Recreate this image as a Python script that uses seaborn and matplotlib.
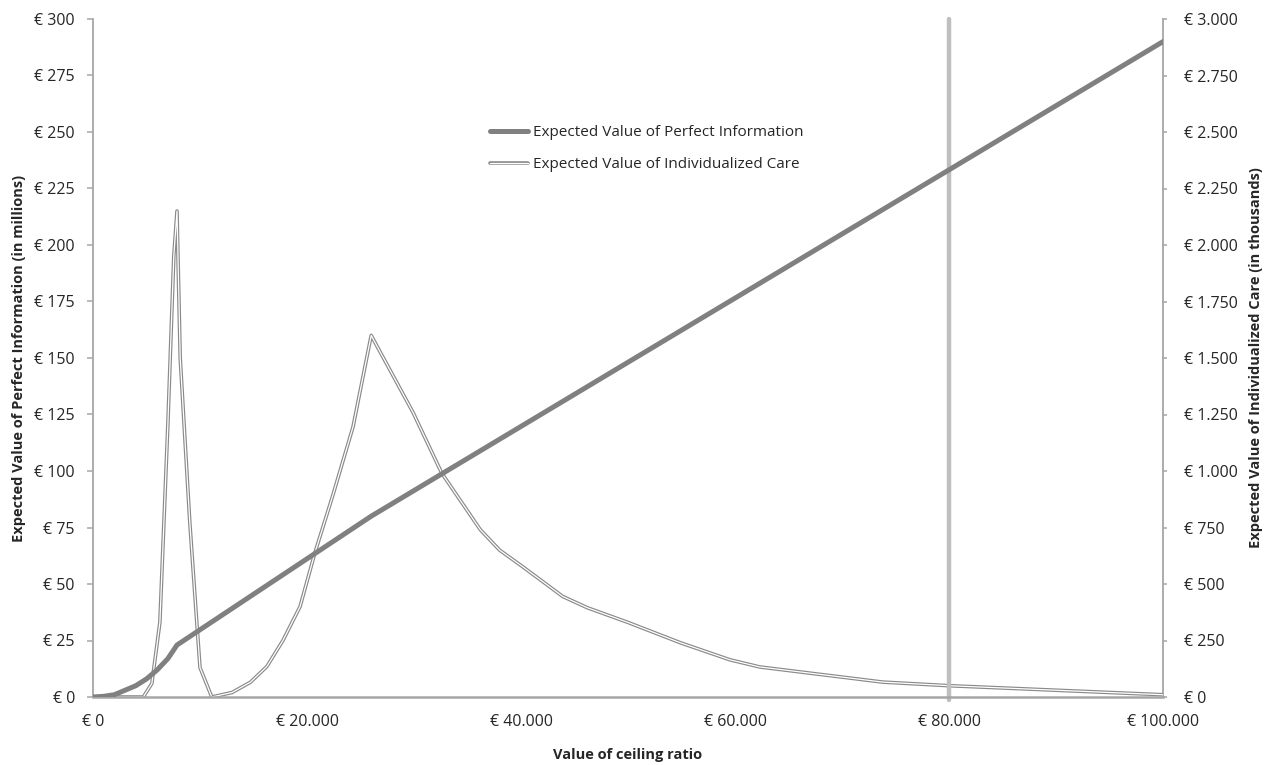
import matplotlib
matplotlib.use("Agg")
import matplotlib.pyplot as plt
import seaborn as sns
import pandas as pd
from matplotlib.ticker import FuncFormatter, MultipleLocator
from matplotlib.lines import Line2D

# ---- data ----
evpi_ceiling = [0, 1000, 2000, 3000, 4000, 5000, 6000, 7000, 7850, 26000, 100000]
evpi_millions = [0, 0.3, 1, 3, 5, 8, 12, 17, 23, 80, 290]

care_ceiling = [0, 4700, 5500, 6250, 7000, 7550, 7850, 8150, 9050, 9700, 10000, 11100,
                13000, 14700, 16250, 17750, 19350, 20750, 22400, 24300, 26000, 26800,
                29900, 32600, 36200, 38000, 40200, 43900, 46200, 50000, 54900, 59500,
                62300, 73800, 80000, 90000, 100000]
care_thousands = [0, 0, 60, 330, 1210, 1950, 2150, 1500, 770, 330, 130, 0,
                  20, 65, 135, 250, 400, 640, 890, 1195, 1600, 1530,
                  1260, 990, 740, 650, 575, 445, 395, 330, 240, 165,
                  133, 66, 50, 30, 10]

threshold = 80000

evpi_label = "Expected Value of Perfect Information"
care_label = "Expected Value of Individualized Care"

sns.set_theme(style="white")
plt.rcParams['font.family'] = ['Open Sans', 'DejaVu Sans']

text_color = "#262626"
axis_gray = "#a6a6a6"

fig = plt.figure(figsize=(12.72, 7.65), dpi=100)
ax = fig.add_axes([93/1272, 1-697/765, (1163-93)/1272, (697-19)/765])
ax2 = ax.twinx()

df_evpi = pd.DataFrame({"x": evpi_ceiling, "y": evpi_millions})
df_care = pd.DataFrame({"x": care_ceiling, "y": care_thousands})

ax.axvline(threshold, color="#bfbfbf", lw=3.2, zorder=1, ymin=-0.005, clip_on=False)

sns.lineplot(data=df_care, x="x", y="y", ax=ax2, color="#8a8a8a", lw=2.6, zorder=3)
sns.lineplot(data=df_care, x="x", y="y", ax=ax2, color="white", lw=0.9, zorder=4)
sns.lineplot(data=df_evpi, x="x", y="y", ax=ax, color="#808080", lw=3.6, zorder=5)

ax.set_zorder(ax2.get_zorder() + 1)
ax.patch.set_visible(False)

ax.set_xlim(0, 100000)
ax.set_ylim(0, 300)
ax2.set_ylim(0, 3000)

ax.xaxis.set_major_locator(MultipleLocator(20000))
ax.yaxis.set_major_locator(MultipleLocator(25))
ax2.yaxis.set_major_locator(MultipleLocator(250))

def thou(v):
    return "{:,.0f}".format(v).replace(",", ".")

ax.xaxis.set_major_formatter(FuncFormatter(lambda v, p: "€ " + thou(v)))
ax.yaxis.set_major_formatter(FuncFormatter(lambda v, p: "€ " + thou(v)))
ax2.yaxis.set_major_formatter(FuncFormatter(lambda v, p: "€ " + thou(v)))

for a in (ax, ax2):
    for s in a.spines.values():
        s.set_visible(False)
ax.spines['left'].set_visible(True)
ax.spines['left'].set_color(axis_gray)
ax.spines['left'].set_linewidth(1.3)
ax.spines['bottom'].set_visible(True)
ax.spines['bottom'].set_color(axis_gray)
ax.spines['bottom'].set_linewidth(1.8)
ax2.spines['right'].set_visible(True)
ax2.spines['right'].set_color(axis_gray)
ax2.spines['right'].set_linewidth(1.3)

tick_fs = 11.5
ax.tick_params(axis='y', which='major', direction='out', length=4, width=1.1, color=axis_gray,
               labelsize=tick_fs, labelcolor=text_color, pad=9, left=True)
ax.tick_params(axis='x', length=0, labelsize=tick_fs, labelcolor=text_color, pad=12)
ax2.tick_params(axis='y', which='major', direction='out', length=3, width=1.1, color=axis_gray,
                labelsize=tick_fs, labelcolor=text_color, pad=12, right=True)

ax.set_xlabel("Value of ceiling ratio", fontsize=10.5, fontweight='bold', color=text_color, labelpad=13)
ax.set_ylabel("Expected Value of Perfect Information (in millions)", fontsize=10.5,
              fontweight='bold', color=text_color, labelpad=6)
ax2.set_ylabel("Expected Value of Individualized Care (in thousands)", fontsize=10.5,
               fontweight='bold', color=text_color, labelpad=8, rotation=90)
ax.grid(False)
ax2.grid(False)

h1 = Line2D([], [], color="#808080", lw=3.6)
h2a = Line2D([], [], color="#8a8a8a", lw=2.6)
h2b = Line2D([], [], color="white", lw=0.9)
leg = ax.legend([h1, (h2a, h2b)], [evpi_label, care_label], loc="upper left",
                bbox_to_anchor=((490-93)/1070, 1-(125-19)/678), frameon=False,
                fontsize=11, handlelength=2.5, labelspacing=1.14, handletextpad=0.33,
                borderaxespad=0, borderpad=0)
for t in leg.get_texts():
    t.set_color(text_color)

fig.savefig("out.png", dpi=100)
